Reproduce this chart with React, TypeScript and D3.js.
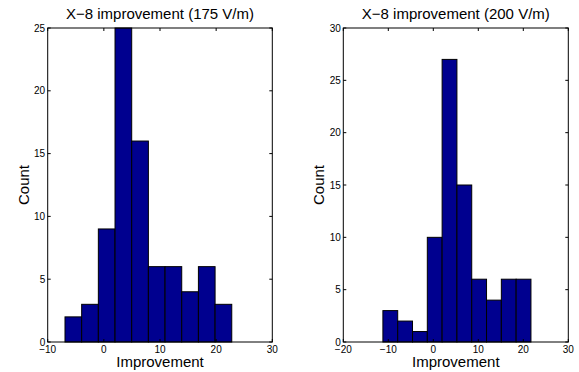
import React, { useEffect, useRef } from "react";
import * as d3 from "d3";

// bin edges and counts
const edges175 = [-6.92, -3.95, -0.98, 1.99, 4.96, 7.93, 10.9, 13.87, 16.84, 19.81, 22.78];
const counts175 = [2, 3, 9, 25, 16, 6, 6, 4, 6, 3];
const edges200 = [-11.2, -7.91, -4.62, -1.33, 1.96, 5.25, 8.54, 11.83, 15.12, 18.41, 21.7];
const counts200 = [3, 2, 1, 10, 27, 15, 6, 4, 6, 6];

const xTicks175 = [-10, 0, 10, 20, 30];
const yTicks175 = [0, 5, 10, 15, 20, 25];
const xTicks200 = [-20, -10, 0, 10, 20, 30];
const yTicks200 = [0, 5, 10, 15, 20, 25, 30];

interface Panel {
  title: string;
  edges: number[];
  counts: number[];
  xDomain: [number, number];
  yDomain: [number, number];
  xTicks: number[];
  yTicks: number[];
  left: number;
  right: number;
}

const panels: Panel[] = [
  {
    title: "X\u22128 improvement (175 V/m)",
    edges: edges175,
    counts: counts175,
    xDomain: [-10, 30],
    yDomain: [0, 25],
    xTicks: xTicks175,
    yTicks: yTicks175,
    left: 47.7,
    right: 272.3,
  },
  {
    title: "X\u22128 improvement (200 V/m)",
    edges: edges200,
    counts: counts200,
    xDomain: [-20, 30],
    yDomain: [0, 30],
    xTicks: xTicks200,
    yTicks: yTicks200,
    left: 343.3,
    right: 568.3,
  },
];

export default function App() {
  const ref = useRef<SVGSVGElement>(null);

  useEffect(() => {
    if (!ref.current) return;
    const svg = d3.select(ref.current);
    svg.selectAll("*").remove();

    const top = 28;
    const bottom = 342;
    const font = "'Liberation Sans', Arial, sans-serif";
    const tickLen = 3;

    panels.forEach((p) => {
      const x = d3.scaleLinear().domain(p.xDomain).range([p.left, p.right]);
      const y = d3.scaleLinear().domain(p.yDomain).range([bottom, top]);
      const g = svg.append("g");

      const bins = p.counts.map((c, i) => ({ x0: p.edges[i], x1: p.edges[i + 1], c }));

      g.selectAll("rect.bar")
        .data(bins)
        .join("rect")
        .attr("class", "bar")
        .attr("x", (d) => x(d.x0))
        .attr("y", (d) => y(d.c))
        .attr("width", (d) => x(d.x1) - x(d.x0))
        .attr("height", (d) => y(0) - y(d.c))
        .attr("fill", "#00008f")
        .attr("stroke", "#000")
        .attr("stroke-width", 1);

      // box
      g.append("rect")
        .attr("x", p.left)
        .attr("y", top)
        .attr("width", p.right - p.left)
        .attr("height", bottom - top)
        .attr("fill", "none")
        .attr("stroke", "#000")
        .attr("stroke-width", 1);

      // inward ticks on all sides
      p.xTicks.forEach((t) => {
        g.append("line")
          .attr("x1", x(t)).attr("x2", x(t))
          .attr("y1", bottom).attr("y2", bottom - tickLen)
          .attr("stroke", "#000");
        g.append("line")
          .attr("x1", x(t)).attr("x2", x(t))
          .attr("y1", top).attr("y2", top + tickLen)
          .attr("stroke", "#000");
        g.append("text")
          .attr("x", x(t))
          .attr("y", bottom + 11)
          .attr("text-anchor", "middle")
          .attr("font-family", font)
          .attr("font-size", 10)
          .text(t < 0 ? `\u2212${-t}` : `${t}`);
      });
      p.yTicks.forEach((t) => {
        g.append("line")
          .attr("x1", p.left).attr("x2", p.left + tickLen)
          .attr("y1", y(t)).attr("y2", y(t))
          .attr("stroke", "#000");
        g.append("line")
          .attr("x1", p.right).attr("x2", p.right - tickLen)
          .attr("y1", y(t)).attr("y2", y(t))
          .attr("stroke", "#000");
        g.append("text")
          .attr("x", p.left - 2.5)
          .attr("y", y(t) + 3.5)
          .attr("text-anchor", "end")
          .attr("font-family", font)
          .attr("font-size", 10)
          .text(`${t}`);
      });

      g.append("text")
        .attr("x", (p.left + p.right) / 2)
        .attr("y", 19)
        .attr("text-anchor", "middle")
        .attr("font-family", font)
        .attr("font-size", 15)
        .text(p.title);

      g.append("text")
        .attr("x", (p.left + p.right) / 2)
        .attr("y", 367)
        .attr("text-anchor", "middle")
        .attr("font-family", font)
        .attr("font-size", 15)
        .text("Improvement");

      g.append("text")
        .attr("transform", `translate(${p.left - 19},${(top + bottom) / 2}) rotate(-90)`)
        .attr("text-anchor", "middle")
        .attr("font-family", font)
        .attr("font-size", 15)
        .text("Count");
    });
  }, []);

  return (
    <svg
      ref={ref}
      width={579}
      height={372}
      style={{ position: "absolute", left: 0, top: 0, background: "#fff" }}
    />
  );
}
